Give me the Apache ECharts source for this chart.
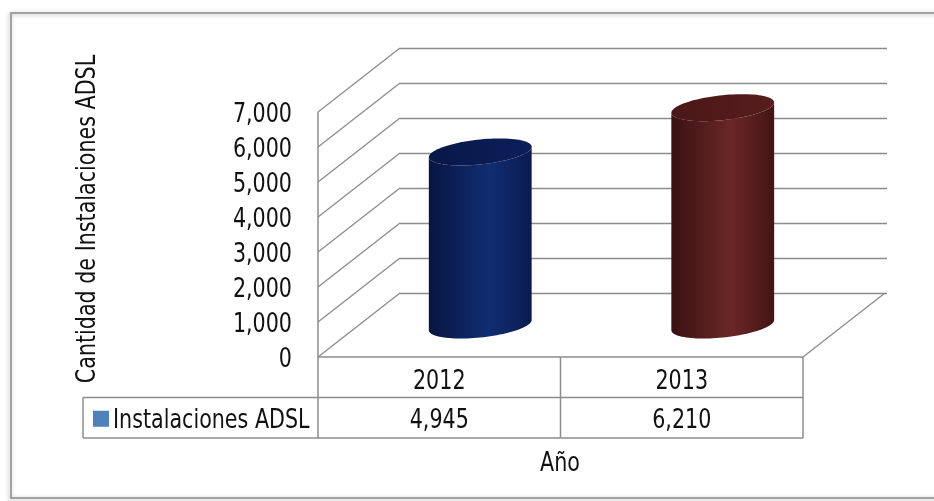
<!DOCTYPE html>
<html>
<head>
<meta charset="utf-8">
<script src="https://cdn.jsdelivr.net/npm/echarts@6/dist/echarts.min.js"></script>
<style>
  html, body { margin: 0; padding: 0; background: #ffffff; }
  #chart { width: 934px; height: 501px; }
</style>
</head>
<body>
<div id="chart"></div>
<script>
// ---- data ----
const years = ['2012', '2013'];
const installs = [4945, 6210];
const seriesName = 'Instalaciones ADSL';
const yTicks = [0, 1000, 2000, 3000, 4000, 5000, 6000, 7000];
const yTitle = 'Cantidad de Instalaciones ADSL';
const xTitle = 'Año';

// ---- styling ----
const FONT_FAMILY = '"DejaVu Sans Condensed", "Liberation Sans", sans-serif';
const FS = 27;
const NARROW = 0.85;              // horizontal squeeze applied to all text
const TEXT_DY = 3;                // optical baseline correction for middle-aligned text
const FONT = FS + 'px ' + FONT_FAMILY;
const TEXT_COLOR = '#111111';
const GRID_COLOR = '#8c8c8c';
const DX = 82, DY = -64;          // depth offset of the back wall
const ROW_H = 40.5;               // data-table row height
const LEGEND_LEFT = 83;           // left edge of the legend cell
const LEGEND_COLOR = '#4f81bd';
const BODY_STOPS = [
  ['#071540', '#112d72', '#0a1b50'],
  ['#3a1111', '#6b2727', '#431414']
];
const TOP_COLORS = [['#081747', '#0c1f5a'], ['#4a1717', '#571d1d']];

const fmt = v => Number(v).toLocaleString('en-US');

const label = (text, x, y, align) => ({
  type: 'text', x, y: y + TEXT_DY, scaleX: NARROW,
  style: {
    text, x: 0, y: 0, align, verticalAlign: 'middle', textAlign: align, textVerticalAlign: 'middle',
    font: FONT, fill: TEXT_COLOR
  }
});

const chart = echarts.init(document.getElementById('chart'), null, { renderer: 'canvas' });

// sloping gridlines on the side wall, tick labels, floor edge
function renderWall(params, api) {
  const cs = params.coordSys;
  const v = api.value(1);
  const y = api.coord([0, v])[1];
  const children = [
    {
      type: 'line',
      shape: { x1: cs.x, y1: y, x2: cs.x + DX, y2: y + DY },
      style: { stroke: GRID_COLOR, lineWidth: 1.3 }
    },
    label(fmt(v), cs.x - 26, y, 'right')
  ];
  if (v === 0) {
    const xr = cs.x + cs.width;
    children.push({
      type: 'line',
      shape: { x1: xr, y1: y, x2: xr + DX, y2: y + DY },
      style: { stroke: GRID_COLOR, lineWidth: 1.3 }
    });
  }
  return { type: 'group', children };
}

// cylinder columns, centred half-way into the depth
function renderCylinder(params, api) {
  const i = api.value(0);
  const v = api.value(1);
  const base = api.coord([i, 0]);
  const top = api.coord([i, v]);
  const bw = api.size([1, 0])[0];
  const rx = bw * 0.212, ry = 12.5, k = 0.1;
  const cx = base[0] + DX / 2;
  const yb = base[1] + DY / 2;
  const yt = top[1] + DY / 2;
  const pt = (cy, t) => [cx + rx * Math.cos(t), cy + ry * Math.sin(t) - k * rx * Math.cos(t)];
  const N = 48;
  const body = [];
  for (let s = 0; s <= N; s++) body.push(pt(yb, Math.PI * s / N));
  for (let s = 0; s <= N; s++) body.push(pt(yt, Math.PI - Math.PI * s / N));
  const cap = [];
  for (let s = 0; s < 2 * N; s++) cap.push(pt(yt, Math.PI * s / N));
  const st = BODY_STOPS[params.dataIndex % BODY_STOPS.length];
  const tc = TOP_COLORS[params.dataIndex % TOP_COLORS.length];
  return {
    type: 'group',
    children: [
      {
        type: 'polygon',
        shape: { points: body },
        style: {
          fill: {
            type: 'linear', x: 0, y: 0, x2: 1, y2: 0,
            colorStops: [
              { offset: 0, color: st[0] },
              { offset: 0.58, color: st[1] },
              { offset: 1, color: st[2] }
            ]
          }
        }
      },
      {
        type: 'polygon',
        shape: { points: cap },
        style: {
          fill: {
            type: 'linear', x: 0, y: 0, x2: 1, y2: 0,
            colorStops: [
              { offset: 0, color: tc[0] },
              { offset: 1, color: tc[1] }
            ]
          }
        }
      }
    ]
  };
}

// data table under the plot: one column per category
function renderTable(params, api) {
  const cs = params.coordSys;
  const i = api.value(0);
  const c = api.coord([i, 0]);
  const bw = api.size([1, 0])[0];
  const y0 = c[1];
  const xl = c[0] - bw / 2, xr = c[0] + bw / 2;
  const line = (x1, y1, x2, y2) => ({
    type: 'line', shape: { x1, y1, x2, y2 },
    style: { stroke: GRID_COLOR, lineWidth: 1.5 }
  });
  const children = [
    line(xl, y0, xr, y0),
    line(xr, y0, xr, y0 + 2 * ROW_H),
    line(xl, y0 + ROW_H, xr, y0 + ROW_H),
    line(xl, y0 + 2 * ROW_H, xr, y0 + 2 * ROW_H),
    label(years[i], c[0], y0 + 0.5 * ROW_H + 2, 'center'),
    label(fmt(api.value(1)), c[0], y0 + 1.5 * ROW_H, 'center')
  ];
  if (params.dataIndex === 0) {
    // value axis line runs down through the table; legend cell on the left
    children.push(line(cs.x, cs.y, cs.x, y0 + 2 * ROW_H));
    children.push(line(LEGEND_LEFT, y0 + ROW_H, xl, y0 + ROW_H));
    children.push(line(LEGEND_LEFT, y0 + 2 * ROW_H, xl, y0 + 2 * ROW_H));
    children.push(line(LEGEND_LEFT, y0 + ROW_H, LEGEND_LEFT, y0 + 2 * ROW_H));
    children.push({
      type: 'rect',
      shape: { x: LEGEND_LEFT + 10, y: y0 + 1.5 * ROW_H - 7, width: 16, height: 16 },
      style: { fill: LEGEND_COLOR }
    });
    children.push(label(seriesName, LEGEND_LEFT + 30, y0 + 1.5 * ROW_H, 'left'));
  }
  return { type: 'group', children };
}

const option = {
  animation: false,
  backgroundColor: '#ffffff',
  textStyle: { fontFamily: FONT_FAMILY },
  grid: [
    { left: 318, top: 112, width: 485, height: 245, outerBoundsMode: 'none', containLabel: false },
    { left: 400, top: 48, width: 487, height: 245, outerBoundsMode: 'none', containLabel: false }
  ],
  xAxis: [
    {
      type: 'category', gridIndex: 0, data: years,
      axisLine: { show: false }, axisTick: { show: false }, axisLabel: { show: false },
      splitLine: { show: false }
    },
    {
      type: 'category', gridIndex: 1, data: years,
      axisLine: { show: false }, axisTick: { show: false }, axisLabel: { show: false },
      splitLine: { show: false }
    }
  ],
  yAxis: [
    {
      type: 'value', gridIndex: 0, min: 0, max: 7000, interval: 1000,
      axisLine: { show: false }, axisTick: { show: false }, axisLabel: { show: false },
      splitLine: { show: false }
    },
    {
      type: 'value', gridIndex: 1, min: 0, max: 7000, interval: 1000,
      axisLine: { show: false }, axisTick: { show: false }, axisLabel: { show: false },
      splitLine: { show: true, lineStyle: { color: GRID_COLOR, width: 1.3 } }
    }
  ],
  series: [
    {
      type: 'custom', name: 'wall', xAxisIndex: 0, yAxisIndex: 0,
      renderItem: renderWall, silent: true, z: 1,
      data: yTicks.map(v => [0, v])
    },
    {
      type: 'custom', name: 'table', xAxisIndex: 0, yAxisIndex: 0,
      renderItem: renderTable, silent: true, z: 2,
      data: years.map((y, i) => [i, installs[i]])
    },
    {
      type: 'custom', name: seriesName, xAxisIndex: 0, yAxisIndex: 0,
      renderItem: renderCylinder, z: 3,
      itemStyle: { color: LEGEND_COLOR },
      data: years.map((y, i) => [i, installs[i]])
    }
  ],
  graphic: [
    {
      type: 'rect', z: -1,
      shape: { x: 11, y: 13, width: 940, height: 485 },
      style: { fill: 'none', stroke: '#8a8a8a', lineWidth: 1.5, shadowBlur: 4, shadowColor: 'rgba(0,0,0,0.35)', shadowOffsetX: -1, shadowOffsetY: 1 }
    },
    {
      type: 'text', x: 88, y: 219, rotation: Math.PI / 2, scaleX: NARROW,
      style: {
        text: yTitle, align: 'center', verticalAlign: 'middle', textAlign: 'center', textVerticalAlign: 'middle',
        font: FONT, fill: TEXT_COLOR
      }
    },
    {
      type: 'text', x: 560, y: 461 + TEXT_DY, scaleX: NARROW,
      style: {
        text: xTitle, align: 'center', verticalAlign: 'middle', textAlign: 'center', textVerticalAlign: 'middle',
        font: FONT, fill: TEXT_COLOR
      }
    }
  ]
};

chart.setOption(option);
</script>
</body>
</html>
